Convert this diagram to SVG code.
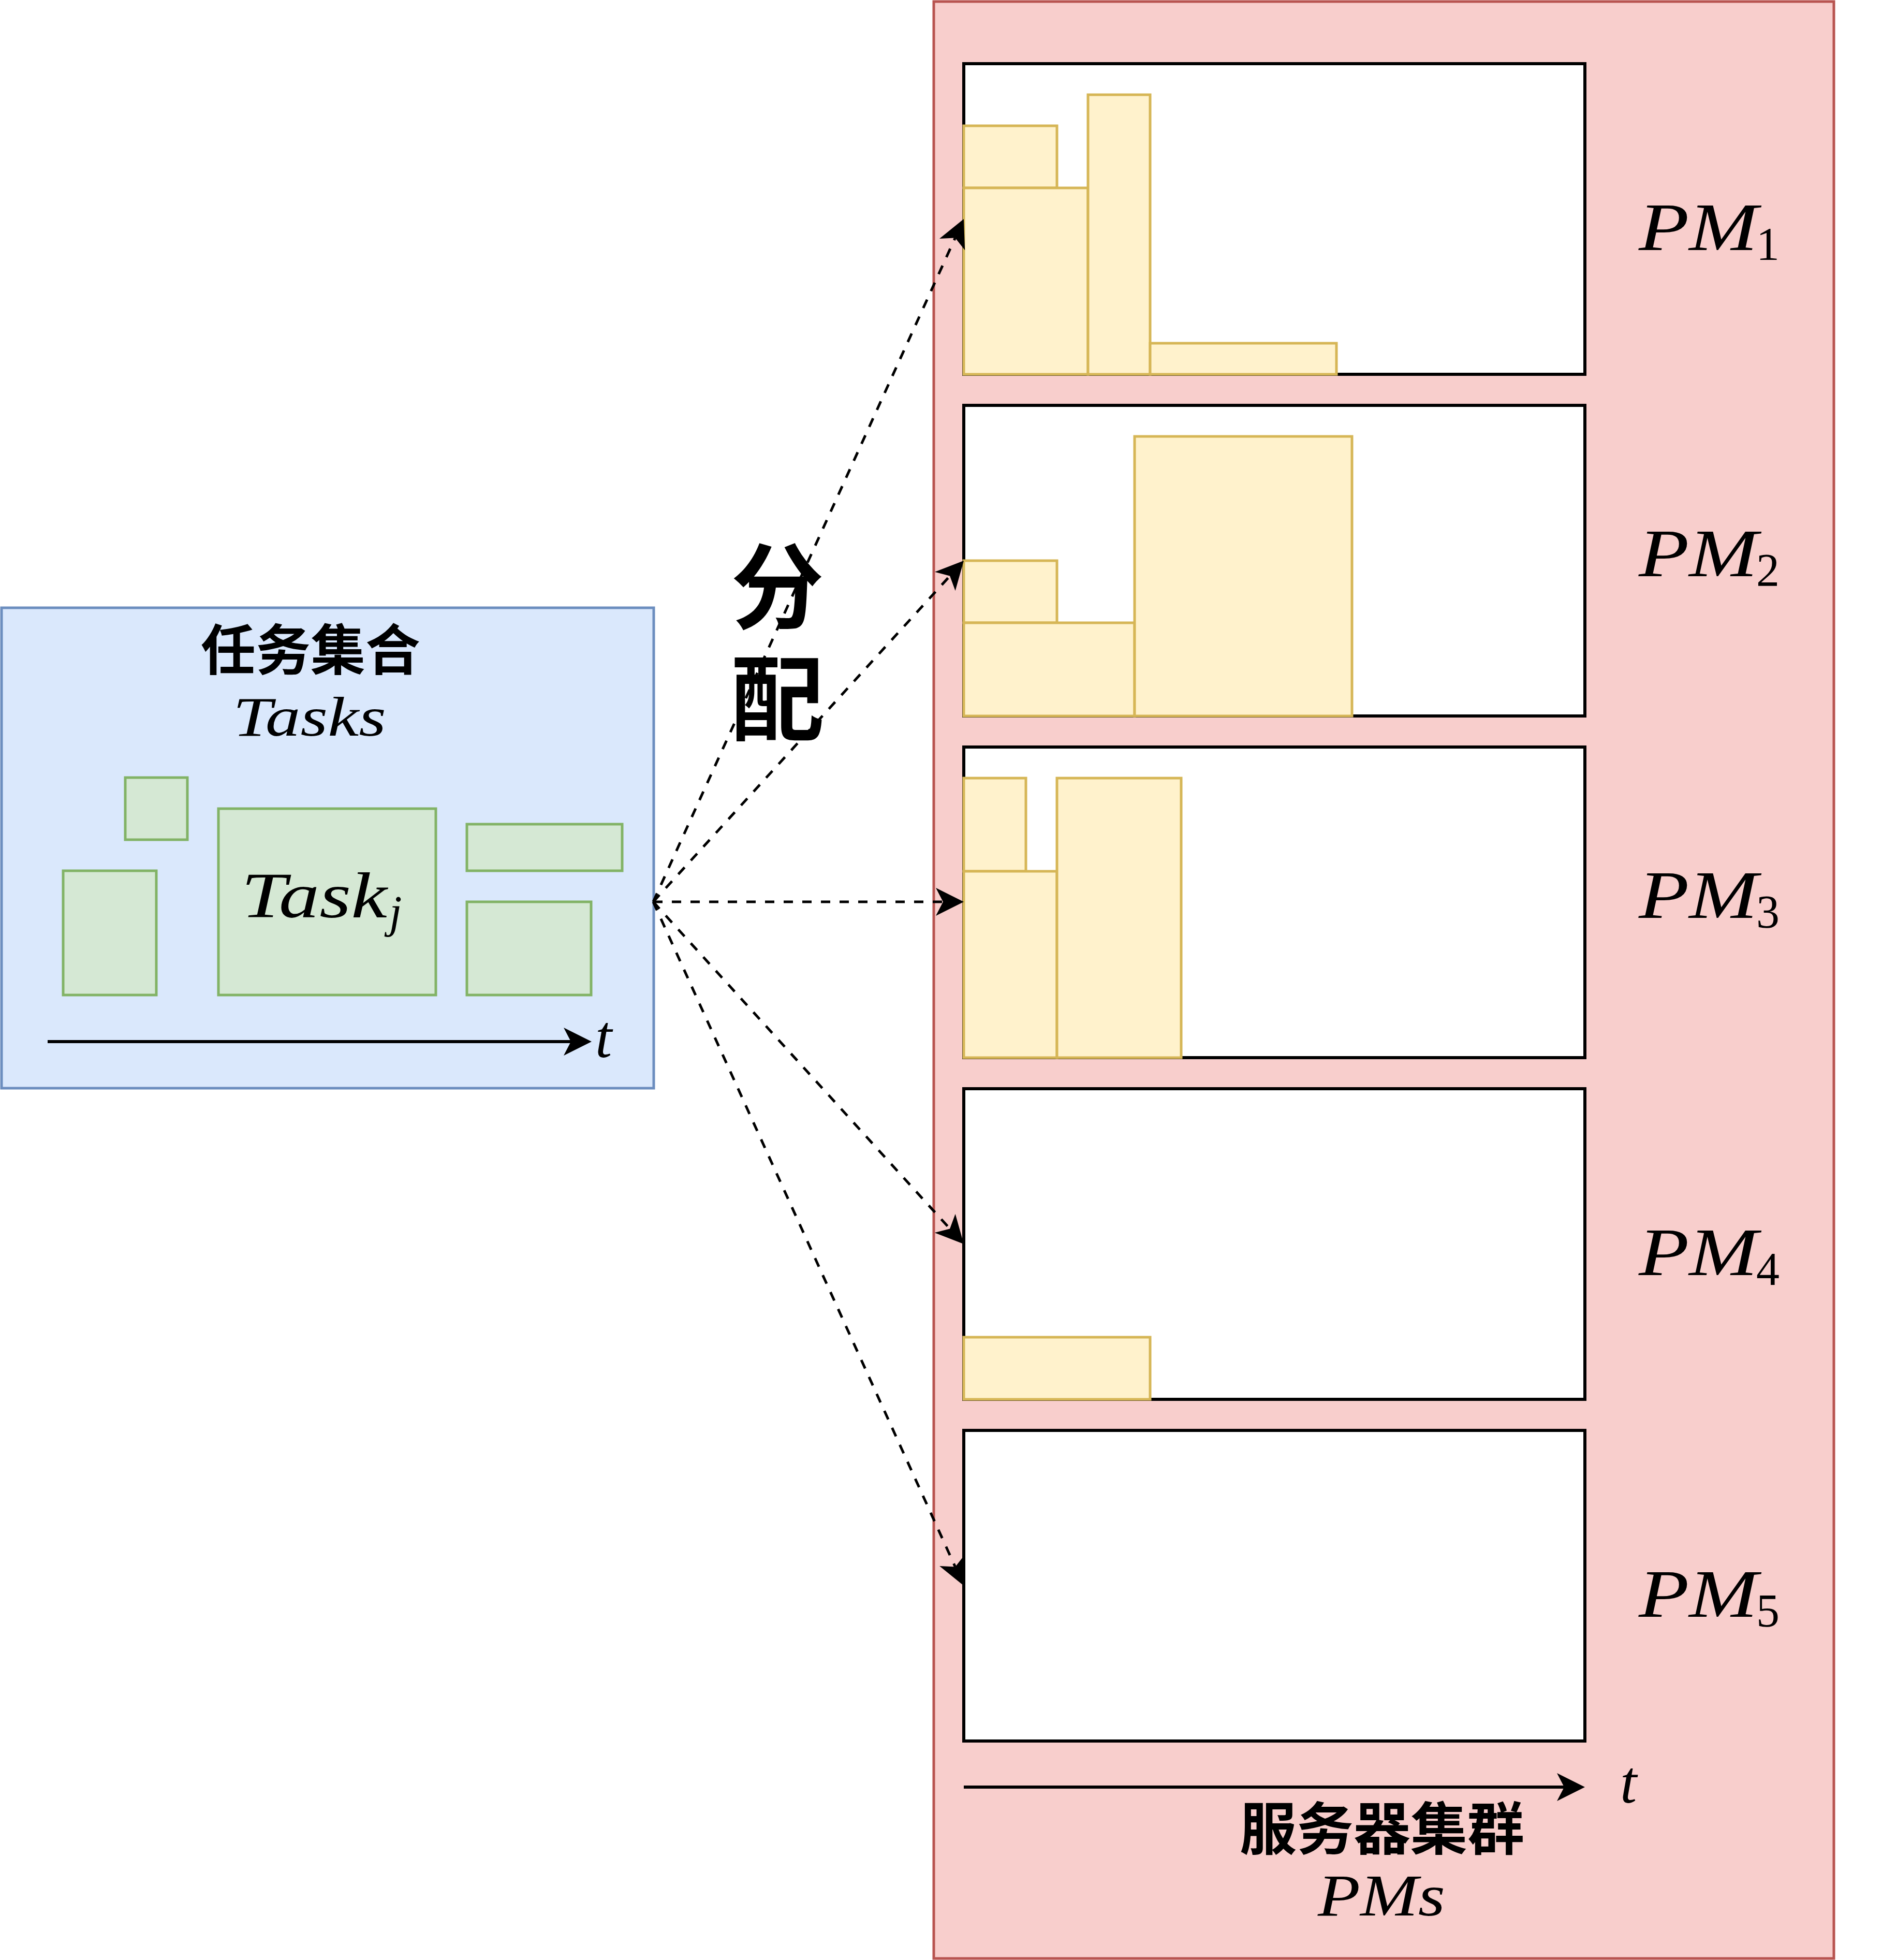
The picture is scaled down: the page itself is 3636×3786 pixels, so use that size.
<svg xmlns="http://www.w3.org/2000/svg" width="3636" height="3786" viewBox="0 0 3636 3786">
<defs>
<style>
.math{font-family:"Liberation Serif","DejaVu Serif",serif;font-style:italic;fill:#000}
.num{font-family:"Liberation Serif","DejaVu Serif",serif;fill:#000}
.cjk{font-family:"Noto Sans CJK SC","Noto Sans",sans-serif;font-weight:bold;fill:#000}
.pm{fill:#fff;stroke:#000;stroke-width:6}
.task{fill:#fff2cc;stroke:#d6b656;stroke-width:5}
.gtask{fill:#d5e8d4;stroke:#82b366;stroke-width:5}
.conn{fill:none;stroke:#000;stroke-width:5;stroke-dasharray:18 18}
.axis{fill:none;stroke:#000;stroke-width:6}
</style>
<marker id="arr" markerUnits="userSpaceOnUse" markerWidth="54" markerHeight="54" viewBox="0 0 54 54" refX="14" refY="27" orient="auto"><path d="M0,0 L54,27 L0,54 L14,27 Z" fill="#000"/></marker>
</defs>
<rect x="0" y="0" width="3636" height="3786" fill="#fff"/>

<g id="server-cluster">
<rect x="1804" y="3" width="1739" height="3780" fill="#f8cecc" stroke="#b85450" stroke-width="5"/>
<text class="cjk" x="2670" y="3573" font-size="110" text-anchor="middle">服务器集群</text>
<text class="math" x="2546" y="3700" font-size="114" textLength="246" lengthAdjust="spacingAndGlyphs">PMs</text>
</g>

<g id="task-set">
<rect x="3" y="1174" width="1260" height="928" fill="#dae8fc" stroke="#6c8ebf" stroke-width="5"/>
<text class="cjk" x="600" y="1294" font-size="106" text-anchor="middle">任务集合</text>
<text class="math" x="450" y="1421" font-size="108" textLength="296" lengthAdjust="spacingAndGlyphs">Tasks</text>
</g>

<g id="task-small">
<rect class="gtask" x="242" y="1502" width="120" height="120"/>
</g>
<g id="task-left">
<rect class="gtask" x="122" y="1682" width="180" height="240"/>
</g>
<g id="task-j">
<rect class="gtask" x="422" y="1562" width="420" height="360"/>
<text class="math" x="466" y="1772" font-size="125" textLength="282" lengthAdjust="spacingAndGlyphs">Task</text>
<text class="math" x="752" y="1791" font-size="88">j</text>
</g>
<g id="task-right-top">
<rect class="gtask" x="902" y="1592" width="300" height="90"/>
</g>
<g id="task-right-bottom">
<rect class="gtask" x="902" y="1742" width="240" height="180"/>
</g>

<g id="task-axis">
<line class="axis" x1="92" y1="2012" x2="1103" y2="2012" marker-end="url(#arr)"/>
<text class="math" x="1150" y="2042" font-size="116">t</text>
</g>

<g id="pm1">
<rect class="pm" x="1862" y="123" width="1200" height="600"/>
<rect class="task" x="1862" y="243" width="180" height="120"/>
<rect class="task" x="1862" y="363" width="240" height="360"/>
<rect class="task" x="2102" y="183" width="120" height="540"/>
<rect class="task" x="2222" y="663" width="360" height="60"/>
<text class="math" x="3166" y="483" font-size="132" textLength="230" lengthAdjust="spacingAndGlyphs">PM</text>
<text class="num" x="3393" y="502" font-size="90">1</text>
</g>

<g id="pm2">
<rect class="pm" x="1862" y="783" width="1200" height="600"/>
<rect class="task" x="1862" y="1083" width="180" height="120"/>
<rect class="task" x="1862" y="1203" width="330" height="180"/>
<rect class="task" x="2192" y="843" width="420" height="540"/>
<text class="math" x="3166" y="1113" font-size="132" textLength="230" lengthAdjust="spacingAndGlyphs">PM</text>
<text class="num" x="3393" y="1132" font-size="90">2</text>
</g>

<g id="pm3">
<rect class="pm" x="1862" y="1443" width="1200" height="600"/>
<rect class="task" x="1862" y="1503" width="120" height="180"/>
<rect class="task" x="1862" y="1683" width="180" height="360"/>
<rect class="task" x="2042" y="1503" width="240" height="540"/>
<text class="math" x="3166" y="1773" font-size="132" textLength="230" lengthAdjust="spacingAndGlyphs">PM</text>
<text class="num" x="3393" y="1792" font-size="90">3</text>
</g>

<g id="pm4">
<rect class="pm" x="1862" y="2103" width="1200" height="600"/>
<rect class="task" x="1862" y="2583" width="360" height="120"/>
<text class="math" x="3166" y="2463" font-size="132" textLength="230" lengthAdjust="spacingAndGlyphs">PM</text>
<text class="num" x="3393" y="2482" font-size="90">4</text>
</g>

<g id="pm5">
<rect class="pm" x="1862" y="2763" width="1200" height="600"/>
<text class="math" x="3166" y="3123" font-size="132" textLength="230" lengthAdjust="spacingAndGlyphs">PM</text>
<text class="num" x="3393" y="3142" font-size="90">5</text>
</g>

<g id="pm-axis">
<line class="axis" x1="1862" y1="3452" x2="3022" y2="3452" marker-end="url(#arr)"/>
<text class="math" x="3130" y="3482" font-size="116">t</text>
</g>

<g id="connectors">
<line class="conn" x1="1262" y1="1742" x2="1845.4" y2="459.4" marker-end="url(#arr)"/>
<line class="conn" x1="1262" y1="1742" x2="1835.1" y2="1112.6" marker-end="url(#arr)"/>
<line class="conn" x1="1262" y1="1742" x2="1822" y2="1742" marker-end="url(#arr)"/>
<line class="conn" x1="1262" y1="1742" x2="1835.1" y2="2373.4" marker-end="url(#arr)"/>
<line class="conn" x1="1262" y1="1742" x2="1845.5" y2="3026.6" marker-end="url(#arr)"/>
</g>

<g id="assign-label">
<text class="cjk" font-size="180" text-anchor="middle"><tspan x="1502" y="1200">分</tspan><tspan x="1502" dy="216">配</tspan></text>
</g>
</svg>
